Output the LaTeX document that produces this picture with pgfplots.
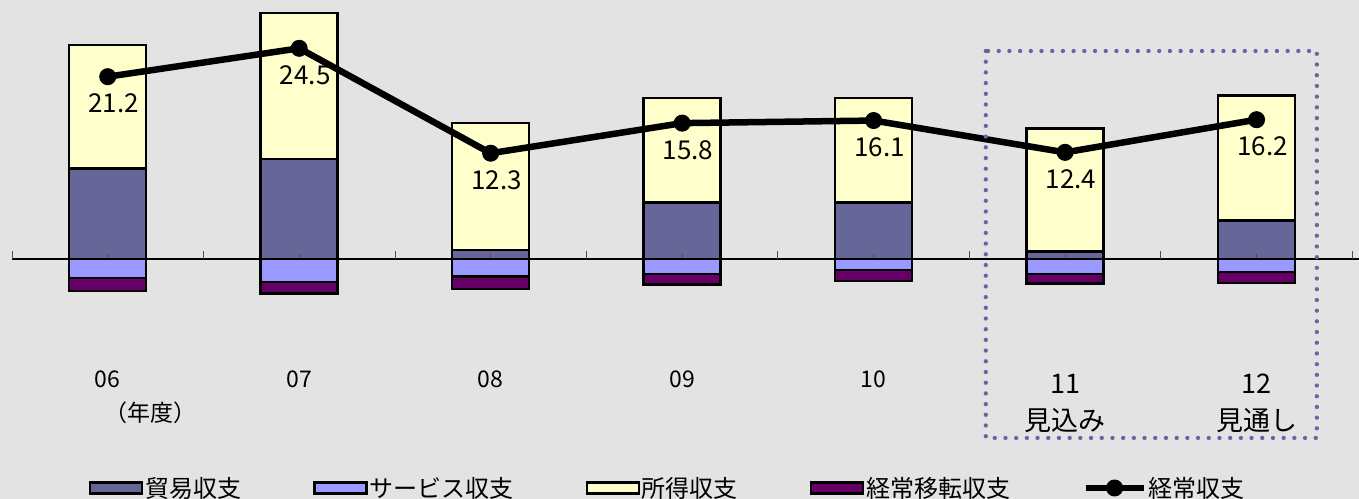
\documentclass[border=0pt]{standalone}
\usepackage{fontspec}
\setmainfont{Noto Sans CJK JP}
\usepackage{pgfplots}
\pgfplotsset{compat=1.18}
\definecolor{bg}{RGB}{227,227,227}
\definecolor{trade}{RGB}{102,102,153}
\definecolor{serv}{RGB}{153,153,255}
\definecolor{inc}{RGB}{255,255,204}
\definecolor{trans}{RGB}{102,0,102}
\definecolor{dotc}{RGB}{102,102,160}
\newcommand{\tl}[2]{\begin{tabular}[b]{@{}c@{}}#1\\#2\end{tabular}}
\pgfplotsset{
  base/.style={scale only axis, width=1347bp, height=499bp,
    xmin=-0.5, xmax=6.535, ymin=-27.91, ymax=30.12,
    at={(0,0)}, anchor=south west, clip=false},
  barst/.style={draw=black, line width=2.5bp},
  barleg/.style={legend image code/.code={\draw[##1, line width=2.4bp] (0bp,-5.5bp) rectangle (52bp,5.5bp);}},
  lineleg/.style={legend image code/.code={\draw[##1, mark repeat=2, mark phase=2] plot coordinates {(0bp,0bp) (29bp,0bp) (58bp,0bp)};}},
}
\begin{document}
\begin{tikzpicture}
\fill[bg] (-12bp,0) rectangle (1347bp,499bp);
% negative stack
\begin{axis}[base, hide axis, ybar stacked, bar width=77bp]
\addplot[barst, fill=serv] coordinates {(0,-2.2) (1,-2.7) (2,-2.05) (3,-1.75) (4,-1.28) (5,-1.74) (6,-1.5)};
\addplot[barst, fill=trans] coordinates {(0,-1.5) (1,-1.3) (2,-1.45) (3,-1.24) (4,-1.28) (5,-1.09) (6,-1.3)};
\end{axis}
% positive stack
\begin{axis}[base, hide axis, ybar stacked, bar width=77bp]
\addplot[barst, fill=trade] coordinates {(0,10.5) (1,11.6) (2,1.05) (3,6.55) (4,6.55) (5,0.85) (6,4.5)};
\addplot[barst, fill=inc] coordinates {(0,14.4) (1,17.0) (2,14.75) (3,12.2) (4,12.15) (5,14.35) (6,14.5)};
\end{axis}
% line, axis, labels, legend
\begin{axis}[base, axis x line=middle, axis y line=none,
  x axis line style={-, black, line width=1.2bp},
  xtick={0,...,6},
  xticklabels={{\tl{06}{\hspace*{86bp}（年度）}},{\tl{07}{\mbox{}}},{\tl{08}{\mbox{}}},{\tl{09}{\mbox{}}},{\tl{10}{\mbox{}}},
    {\fontsize{27bp}{37bp}\selectfont\raisebox{-9bp}{\tl{11}{見込み}}},
    {\fontsize{27bp}{37bp}\selectfont\raisebox{-9bp}{\tl{12}{見通し}}}},
  xticklabel style={anchor=base, yshift=-162bp, inner sep=0pt,
    font=\fontsize{23bp}{34bp}\selectfont},
  tick align=inside,
  major tick length=5bp,
  tick style={black!70, line width=0.8bp},
  extra x ticks={-0.5,0.5,1.5,2.5,3.5,4.5,5.5,6.5},
  extra x tick labels={},
  extra x tick style={major tick length=8bp},
  legend columns=5,
  legend style={draw=none, fill=none, at={(axis cs:2.925,-26.63)}, anchor=center,
    font=\fontsize{24bp}{28bp}\selectfont,
    /tikz/every even column/.append style={column sep=70bp},
    nodes={inner sep=2bp}},
  legend cell align=left,
]
\addlegendimage{barleg, draw=black, fill=trade}
\addlegendentry{貿易収支}
\addlegendimage{barleg, draw=black, fill=serv}
\addlegendentry{サービス収支}
\addlegendimage{barleg, draw=black, fill=inc}
\addlegendentry{所得収支}
\addlegendimage{barleg, draw=black, fill=trans}
\addlegendentry{経常移転収支}
\addplot[black, line width=6.5bp, line join=round, mark=*, mark size=8bp,
  mark options={solid, line width=1bp}, lineleg,
  nodes near coords,
  point meta=y,
  nodes near coords style={anchor=center, xshift=6bp, yshift=-27bp,
    font=\fontsize{26bp}{30bp}\selectfont, text=black,
    /pgf/number format/.cd, fixed, fixed zerofill, precision=1, assume math mode=true}]
  coordinates {(0,21.2) (1,24.5) (2,12.3) (3,15.8) (4,16.1) (5,12.4) (6,16.2)};
\addlegendentry{経常収支}
\draw[dotc, line width=4.3bp, line cap=round, dash pattern=on 0bp off 10.7bp]
  (axis cs:4.586,24.19) rectangle (axis cs:6.315,-20.81);
\end{axis}
\pgfresetboundingbox
\path (-12bp,0) rectangle (1347bp,499bp);
\end{tikzpicture}
\end{document}
